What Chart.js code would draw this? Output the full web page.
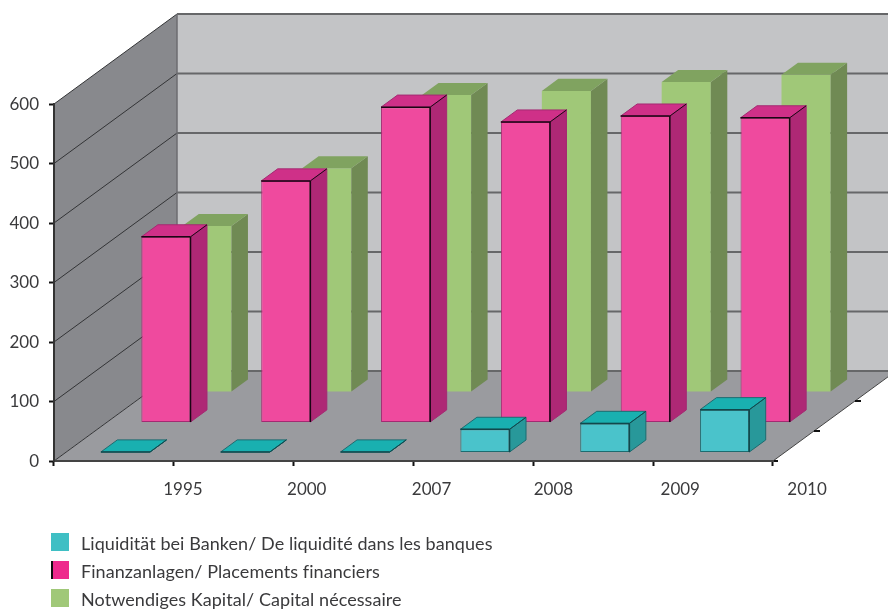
<!DOCTYPE html>
<html>
<head>
<meta charset="utf-8">
<script src="https://cdn.jsdelivr.net/npm/chart.js@4"></script>
<style>
    body { margin: 0; background: #fff; }
    #wrap { position: relative; width: 888px; height: 609px; overflow: hidden; }
    canvas { display: block; }
    #legend { position: absolute; left: 51px; top: 533px; }
    .item { position: absolute; left: 0; width: 700px; height: 18px; white-space: nowrap; }
    .box { position: absolute; left: 0; top: 0; width: 18px; height: 18px; box-sizing: border-box; }
    .label { position: absolute; left: 30px; top: -1px; font: 18px Lato, sans-serif; line-height: 22px; letter-spacing: 0.06px; color: #3a3a3c; }
</style>
</head>
<body>
<div id="wrap">
    <canvas id="chart" width="888" height="609"></canvas>
    <div id="legend"></div>
</div>
<script>
const years = ['1995', '2000', '2007', '2008', '2009', '2010'];
const yTicks = [0, 100, 200, 300, 400, 500, 600];

const liquidity = [1, 1, 1, 39, 49, 72];
const investments = [312, 406, 530, 505, 515, 512];
const capital = [279, 376, 499, 506, 521, 533];

const seriesNames = [
    'Liquidität bei Banken/ De liquidité dans les banques',
    'Finanzanlagen/ Placements financiers',
    'Notwendiges Kapital/ Capital nécessaire'
];

// how far the box goes into the room, and the size of the room itself
const roomX = 123;
const roomY = -90;
const barDepth = 0.134;
const rowX = [0.094, 0.423, 0.756];
const rowY = [0.094, 0.428, 0.767];

// year labels are not centred under the bars in the original
const labelShift = [69, 73, 78, 80, 87, 94];

const faces = [
    { front: '#4ac3cb', top: '#19b0b0', side: '#28989a', soft: '#1c6c70', edge: '#10484c', legend: '#3fbfc4' },
    { front: '#ef4a9e', top: '#cf3088', side: '#ae2875', soft: '#a42a72', edge: '#1c0514', legend: '#ee2a8d' },
    { front: '#a0c878', top: '#80a360', side: '#708a54', soft: null, edge: null, legend: '#a0c878' }
];

const poly = (ctx, pts, fill, stroke) => {
    ctx.beginPath();
    pts.forEach((p, i) => i ? ctx.lineTo(p[0], p[1]) : ctx.moveTo(p[0], p[1]));
    ctx.closePath();
    if (fill) { ctx.fillStyle = fill; ctx.fill(); }
    if (stroke) { ctx.strokeStyle = stroke; ctx.lineWidth = 1; ctx.stroke(); }
};

const line = (ctx, x1, y1, x2, y2, color, width) => {
    ctx.beginPath();
    ctx.moveTo(x1, y1);
    ctx.lineTo(x2, y2);
    ctx.strokeStyle = color;
    ctx.lineWidth = width;
    ctx.stroke();
};

// Walls and floor behind the bars
const roomPlugin = {
    id: 'room',
    beforeDraw(chart) {
        const { ctx, chartArea: a, scales: { y } } = chart;
        const bx = a.left + roomX;
        const zero = y.getPixelForValue(0);
        const top = y.getPixelForValue(600);

        ctx.save();
        poly(ctx, [[bx, top + roomY], [chart.width, top + roomY], [chart.width, zero + roomY], [bx, zero + roomY]], '#c3c4c6');
        poly(ctx, [[a.left, zero], [a.left, top], [bx, top + roomY], [bx, zero + roomY]], '#88898d');
        poly(ctx, [[a.left, zero], [a.right, zero], [a.right + roomX, zero + roomY], [bx, zero + roomY]], '#9a9b9f');

        yTicks.forEach(v => {
            const py = y.getPixelForValue(v);
            line(ctx, bx, py + roomY, chart.width, py + roomY, '#666769', 2);
            line(ctx, a.left, py, bx, py + roomY, '#333436', 1);
        });
        line(ctx, bx, top + roomY, bx, zero + roomY, '#6c6d70', 1.5);
        line(ctx, a.right, zero, a.right + roomX, zero + roomY, '#444', 1);

        // depth ticks on the right floor edge
        [1 / 3, 2 / 3].forEach(f => {
            const tx = a.right + roomX * f;
            const ty = zero + roomY * f;
            line(ctx, tx, ty, tx + 6, ty, '#111', 2);
        });
        line(ctx, a.right, zero, a.right + 5, zero, '#111', 2);
        ctx.restore();
    },
    afterDraw(chart) {
        const { ctx, chartArea: a, scales: { x } } = chart;
        ctx.save();
        ctx.font = '17px Lato, sans-serif';
        ctx.fillStyle = '#3a3a3c';
        ctx.textAlign = 'center';
        ctx.textBaseline = 'middle';
        years.forEach((year, i) => {
            ctx.fillText(year, x.getPixelForValue(i) + labelShift[i], a.bottom + 29);
        });
        ctx.restore();
    }
};

// Each dataset is pushed back to its row, Chart.js draws the front face there
const depthPlugin = {
    id: 'depth',
    beforeDatasetDraw(chart, args) {
        const { ctx } = chart;
        ctx.save();
        ctx.translate(roomX * rowX[args.index], roomY * rowY[args.index]);
    },
    afterDatasetDraw(chart, args) {
        const { ctx } = chart;
        const f = faces[args.index];
        const dx = roomX * barDepth;
        const dy = roomY * barDepth;
        args.meta.data.forEach(bar => {
            const p = bar.getProps(['x', 'y', 'base', 'width'], true);
            const l = p.x - p.width / 2;
            const r = p.x + p.width / 2;
            poly(ctx, [[r, p.y], [r + dx, p.y + dy], [r + dx, p.base + dy], [r, p.base]], f.side, f.soft);
            poly(ctx, [[l, p.y], [r, p.y], [r + dx, p.y + dy], [l + dx, p.y + dy]], f.top, f.soft);
            if (f.edge) {
                line(ctx, l, p.y, r, p.y, f.edge, 1.5);
                line(ctx, r, p.y, r, p.base, f.edge, 1.5);
                line(ctx, r, p.y, r + dx, p.y + dy, f.edge, 1);
            }
        });
        ctx.restore();
    }
};

const makeDataset = (i, data) => ({
    label: seriesNames[i],
    data: data,
    backgroundColor: faces[i].front,
    borderColor: faces[i].soft || faces[i].front,
    borderWidth: faces[i].soft ? 1 : 0,
    borderSkipped: false,
    barPercentage: 0.41,
    categoryPercentage: 1,
    grouped: false,
    clip: false
});

new Chart(document.getElementById('chart'), {
    type: 'bar',
    data: {
        labels: years,
        datasets: [makeDataset(0, liquidity), makeDataset(1, investments), makeDataset(2, capital)]
    },
    plugins: [roomPlugin, depthPlugin],
    options: {
        responsive: false,
        animation: false,
        layout: { padding: { top: 104, right: 115, left: 0, bottom: 0 } },
        plugins: { legend: { display: false }, tooltip: { enabled: false } },
        scales: {
            x: {
                grid: { offset: true, drawOnChartArea: false, tickLength: 5, tickColor: '#111', tickWidth: 2 },
                border: { color: '#444', width: 2 },
                ticks: { display: false },
                afterFit(scale) {
                    scale.height = 148;
                    scale.paddingLeft = scale.paddingRight = 0;
                }
            },
            y: {
                min: 0,
                max: 600,
                afterBuildTicks(scale) {
                    scale.ticks = yTicks.map(value => ({ value }));
                },
                grid: { drawOnChartArea: false, tickLength: 5, tickColor: '#111', tickWidth: 2 },
                border: { color: '#333', width: 2 },
                ticks: { padding: 10, labelOffset: 0.5, color: '#3a3a3c', font: { family: 'Lato, sans-serif', size: 17 } },
                afterFit(scale) {
                    scale.width = 54;
                    scale.paddingTop = scale.paddingBottom = 0;
                }
            }
        }
    }
});

// Legend list under the chart
const legend = document.getElementById('legend');
seriesNames.forEach((name, i) => {
    const item = document.createElement('div');
    item.className = 'item';
    item.style.top = i * 28 + 'px';
    item.innerHTML = `<div class="box" style="background:${faces[i].legend};${i === 1 ? 'border-left:2px solid #111' : ''}"></div><div class="label">${name}</div>`;
    legend.appendChild(item);
});
</script>
</body>
</html>
